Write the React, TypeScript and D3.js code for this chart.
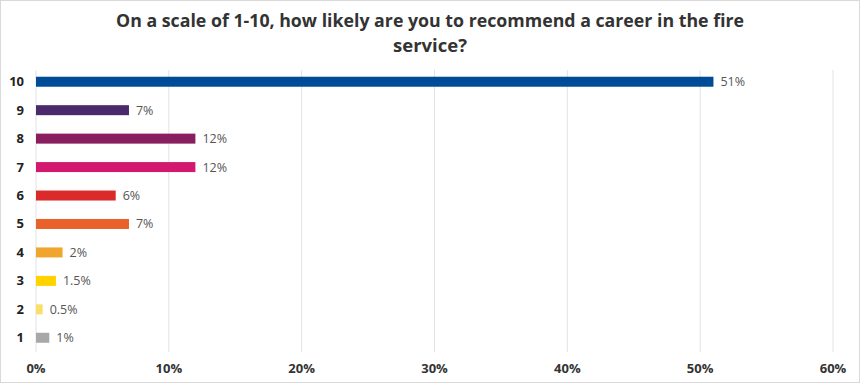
import React from "react";
import * as d3 from "d3";

const categories = ["10", "9", "8", "7", "6", "5", "4", "3", "2", "1"];
const values = [51, 7, 12, 12, 6, 7, 2, 1.5, 0.5, 1];
const valueLabels = ["51%", "7%", "12%", "12%", "6%", "7%", "2%", "1.5%", "0.5%", "1%"];
const colors = ["#004b98", "#4a2a6c", "#8a1f5f", "#d3196f", "#da2a2a", "#e9622b", "#efa52e", "#ffd200", "#f8df6a", "#a9a7a8"];
const ticks = [0, 10, 20, 30, 40, 50, 60];
const title = ["On a scale of 1-10, how likely are you to recommend a career in the fire", "service?"];

const W = 860;
const H = 383;

export default function App() {
  const x = d3.scaleLinear().domain([0, 60]).range([36, 833]);
  const y = d3.scaleBand().domain(categories).range([67.5, 352]).paddingInner(0.64).paddingOuter(0.32);
  const bh = 10;
  const font = "'Open Sans', Roboto, sans-serif";
  return (
    <svg width={W} height={H} style={{ position: "absolute", left: 0, top: 0 }} fontFamily={font}>
      <rect x={0.5} y={0.5} width={W - 1} height={H - 1} fill="#fff" stroke="#d9d9d9" />
      <text x={430} y={27} textAnchor="middle" fontSize={18.5} fontWeight={700} fill="#333" textLength={628} lengthAdjust="spacingAndGlyphs">
        {title[0]}
      </text>
      <text x={430} y={52} textAnchor="middle" fontSize={18.5} fontWeight={700} fill="#333">
        {title[1]}
      </text>
      {ticks.map((t) => (
        <g key={t}>
          <line x1={x(t)} x2={x(t)} y1={70} y2={352} stroke="#e2e2e2" strokeWidth={1} />
          <text x={x(t)} y={372.5} textAnchor="middle" fontSize={13} fontWeight={700} fill="#333">
            {t}%
          </text>
        </g>
      ))}
      {categories.map((c, i) => {
        const yc = (y(c) as number) + y.bandwidth() / 2;
        return (
          <g key={c}>
            <text x={24} y={yc + 4.5} textAnchor="end" fontSize={13} fontWeight={700} fill="#222">
              {c}
            </text>
            <rect x={x(0)} y={yc - bh / 2} width={x(values[i]) - x(0)} height={bh} fill={colors[i]} />
            <text x={x(values[i]) + 7} y={yc + 4.5} fontSize={12.5} fontWeight={400} fill="#555">
              {valueLabels[i]}
            </text>
          </g>
        );
      })}
    </svg>
  );
}
